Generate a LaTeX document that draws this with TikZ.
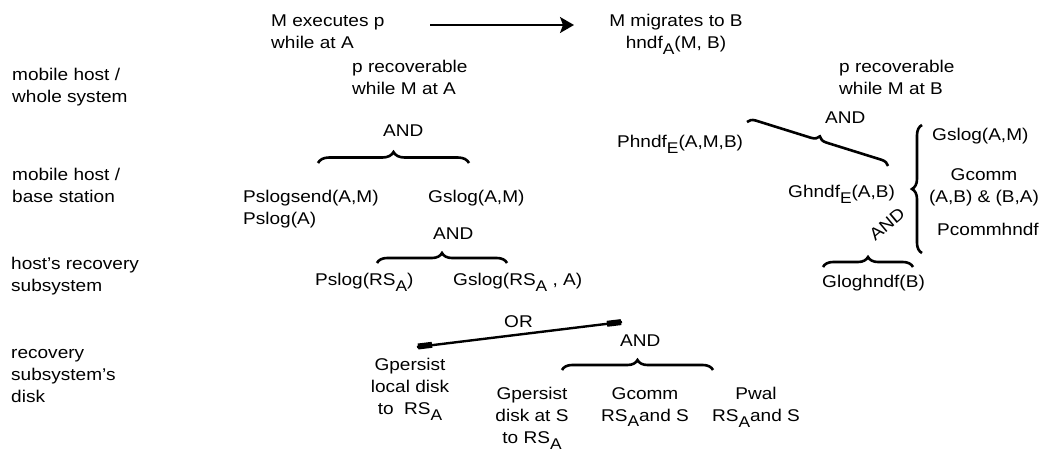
\documentclass[tikz,border=0pt]{standalone}
\usepackage{fontspec}
\setmainfont{Liberation Sans}[FakeStretch=1.12]
\usetikzlibrary{decorations.pathreplacing,arrows.meta}
\newcommand\lsub[1]{\raisebox{-5.5pt}{\fontsize{15.5}{15.5}\selectfont #1}}
\begin{document}
\begin{tikzpicture}[x=1pt,y=-1pt,
  txt/.style={inner sep=0pt,anchor=north west,align=left,font=\fontsize{17}{22}\selectfont},
  ctxt/.style={inner sep=0pt,anchor=north,align=center,font=\fontsize{17}{22}\selectfont},
  curly/.style={decorate,decoration={brace,amplitude=#1},line width=2.6pt},
  curly/.default=10pt,
  orline/.style={line width=2.4pt},
  orcap/.style={line width=6pt},
  migr arrow/.style={line width=1.8pt,-{Stealth[length=14pt,width=16pt,inset=3pt]}}]
\useasboundingbox (0,0) rectangle (1044,451);
% level labels
\node[txt] (lbl1) at (12,68) {mobile host /\\whole system};
\node[txt] (lbl2) at (12,168) {mobile host /\\base station};
\node[txt] (lbl3) at (11,257) {host's recovery\\subsystem};
\node[txt] (lbl4) at (11,349) {recovery\\subsystem's\\disk};
% top
\node[txt] (exec) at (271,15) {M executes p\\while at A};
\node[ctxt] (migr) at (676,14) {M migrates to B\\hndf\lsub{A}(M, B)};
\coordinate (arrS) at (430,25);
\coordinate (arrE) at (574,25);
\draw[migr arrow] (arrS) -- (arrE);
% left tree
\node[txt] (precA) at (352,60) {p recoverable\\while M at A};
\node[txt] (andA) at (383,125) {AND};
\draw[curly=11pt] (318,163) -- (469,163);
\node[txt] (pslogsend) at (243,190) {Pslogsend(A,M)\\Pslog(A)};
\node[txt] (gslogAM) at (428,190) {Gslog(A,M)};
\node[txt] (andB) at (433,228) {AND};
\draw[curly] (377,263) -- (507,263);
\node[txt] (pslogRS) at (315,273) {Pslog(RS\lsub{A})};
\node[txt] (gslogRS) at (453,273) {Gslog(RS\lsub{A} , A)};
% right tree
\node[txt] (precB) at (839,60) {p recoverable\\while M at B};
\node[txt] (andC) at (825,112) {AND};
\draw[curly=8pt] (747,122) -- (888,166);
\node[txt] (phndf) at (617,135) {Phndf\lsub{E}(A,M,B)};
\node[txt] (ghndf) at (788,185) {Ghndf\lsub{E}(A,B)};
\draw[curly] (922,253) -- (922,125);
\node[txt] (gslogR) at (932,128) {Gslog(A,M)};
\node[ctxt] (gcomm) at (984,168) {Gcomm\\(A,B) \& (B,A)};
\node[txt] (pcomm) at (937,223) {Pcommhndf};
\node[inner sep=0pt,rotate=40,font=\fontsize{17}{22}\selectfont] (andD) at (887,224) {AND};
\draw[curly] (823,267) -- (913,267);
\node[txt] (glog) at (822,275) {Gloghndf(B)};
% bottom
\node[txt] (or) at (504,315) {OR};
\draw[orline] (417,347) -- (622,322);
\draw[orcap] (418,346.5) -- (432,344.8);
\draw[orcap] (607,323.8) -- (621,322.1);
\node[txt] (andE) at (620,335) {AND};
\draw[curly] (562,370) -- (713,370);
\node[ctxt] (gp1) at (410,358) {Gpersist\\local disk\\to\ \ RS\lsub{A}};
\node[ctxt] (gp2) at (532,387) {Gpersist\\disk at S\\to RS\lsub{A}};
\node[ctxt] (gc2) at (645,387) {Gcomm\\RS\lsub{A}and S};
\node[ctxt] (pw) at (756,387) {Pwal\\RS\lsub{A}and S};
\end{tikzpicture}
\end{document}
